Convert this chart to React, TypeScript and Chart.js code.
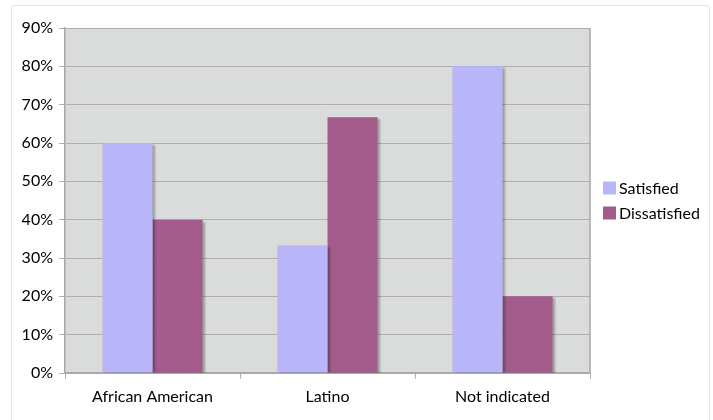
import React, { useEffect, useRef } from "react";
import { Chart, registerables } from "chart.js";

Chart.register(...registerables);

const categories = ["African American", "Latino", "Not indicated"];
const seriesNames = ["Satisfied", "Dissatisfied"];
const satisfied = [0.6, 0.333, 0.8];
const dissatisfied = [0.4, 0.667, 0.2];
const seriesColors = ["#B8B6F8", "#A35B8B"];
const yMax = 0.9;
const yStep = 0.1;

const FONT = "Lato, 'Open Sans', sans-serif";

const bgPlugin = {
  id: "plotBg",
  beforeDraw(chart: any) {
    const { ctx, chartArea } = chart;
    ctx.save();
    ctx.fillStyle = "#DADBDB";
    ctx.fillRect(chartArea.left, chartArea.top, chartArea.right - chartArea.left, chartArea.bottom - chartArea.top);
    ctx.restore();
  },
  beforeDatasetsDraw(chart: any) {
    const ctx = chart.ctx;
    ctx.save();
    ctx.shadowColor = "rgba(0,0,0,0.28)";
    ctx.shadowOffsetX = 2;
    ctx.shadowOffsetY = 2;
    ctx.shadowBlur = 2;
  },
  afterDatasetsDraw(chart: any) {
    chart.ctx.restore();
  },
  afterDraw(chart: any) {
    const { ctx, chartArea } = chart;
    ctx.save();
    ctx.strokeStyle = "#A8A8A8";
    ctx.lineWidth = 1.5;
    ctx.beginPath();
    ctx.moveTo(chartArea.right, chartArea.top);
    ctx.lineTo(chartArea.right, chartArea.bottom);
    ctx.stroke();
    // legend
    const x0 = chartArea.right + 13;
    const yMid = (chartArea.top + chartArea.bottom) / 2;
    const rowH = 25;
    const startY = yMid - rowH / 2 - 0.5;
    ctx.font = `16px ${FONT}`;
    ctx.textBaseline = "middle";
    ctx.textAlign = "left";
    chart.data.datasets.forEach((ds: any, i: number) => {
      const cy = startY + i * rowH;
      ctx.fillStyle = ds.backgroundColor;
      ctx.fillRect(x0, cy - 6, 13, 13);
      ctx.fillStyle = "#000";
      ctx.fillText(ds.label, x0 + 16, cy + 1);
    });
    ctx.restore();
  },
};

export default function App() {
  const ref = useRef<HTMLCanvasElement>(null);
  useEffect(() => {
    const chart = new Chart(ref.current!, {
      type: "bar",
      data: {
        labels: categories,
        datasets: [
          { label: seriesNames[0], data: satisfied, backgroundColor: seriesColors[0] },
          { label: seriesNames[1], data: dissatisfied, backgroundColor: seriesColors[1] },
        ],
      },
      options: {
        animation: false,
        responsive: false,
        maintainAspectRatio: false,
        layout: { padding: { left: 10, top: 28, right: 123, bottom: 7 } },
        plugins: { legend: { display: false }, tooltip: { enabled: false } },
        datasets: { bar: { categoryPercentage: 0.572, barPercentage: 1 } },
        scales: {
          x: {
            grid: { drawOnChartArea: false, drawTicks: true, tickLength: 6, color: "#B0B0B0", offset: true },
            border: { color: "#A8A8A8", width: 1.5 },
            ticks: { color: "#000", font: { family: FONT, size: 16 }, padding: 8 },
            afterFit(scale: any) { scale.height = 40; },
          },
          y: {
            min: 0,
            max: yMax,
            grid: { color: "#AFAFAF", lineWidth: 1, tickLength: 6 },
            border: { color: "#A8A8A8", width: 1.5 },
            ticks: {
              stepSize: yStep,
              color: "#000",
              font: { family: FONT, size: 16 },
              padding: 6,
              callback: (v: any) => Math.round(Number(v) * 100) + "%",
            },
            afterFit(scale: any) { scale.width = 55; },
          },
        },
      },
      plugins: [bgPlugin],
    });
    return () => chart.destroy();
  }, []);
  return (
    <div style={{ position: "absolute", left: 0, top: 0, width: 713, height: 420, background: "#fff", overflow: "hidden" }}>
      <div style={{ position: "absolute", left: 11, top: 5, width: 697, height: 430, border: "1px solid #E6E6E6", borderRadius: 3 }} />
      <canvas ref={ref} width={713} height={420} style={{ position: "absolute", left: 0, top: 0 }} />
    </div>
  );
}
